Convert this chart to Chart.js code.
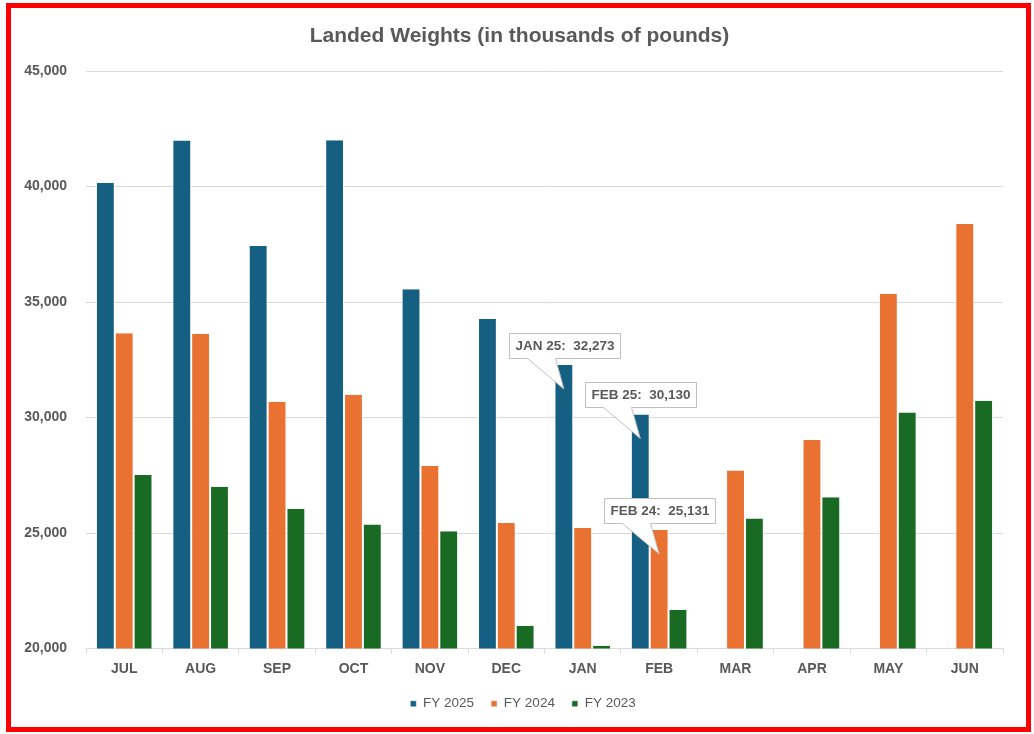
<!DOCTYPE html>
<html>
<head>
<meta charset="utf-8">
<title>Landed Weights</title>
<script src="https://cdn.jsdelivr.net/npm/chart.js@4.4.1/dist/chart.umd.min.js"></script>
<style>
  html, body { margin: 0; padding: 0; background: #ffffff; }
  #wrap { position: relative; width: 1034px; height: 734px; overflow: hidden; }
  #c { position: absolute; left: 0; top: 0; }
  #frame {
    position: absolute; left: 6px; top: 3px; width: 1025px; height: 729px;
    box-sizing: border-box; border: 5px solid #ff0000; pointer-events: none;
  }
</style>
</head>
<body>
<div id="wrap">
  <canvas id="c" width="1034" height="734"></canvas>
  <div id="frame"></div>
</div>
<script>
// Fiscal-year months, July through June
const months = ['JUL', 'AUG', 'SEP', 'OCT', 'NOV', 'DEC', 'JAN', 'FEB', 'MAR', 'APR', 'MAY', 'JUN'];

// Landed weights, thousands of pounds (FY 2025 only reported through February)
const fy2025 = [40150, 41990, 37420, 42000, 35550, 34260, 32273, 30130, null, null, null, null];
const fy2024 = [33650, 33630, 30680, 30990, 27900, 25435, 25220, 25131, 27710, 29030, 35350, 38380];
const fy2023 = [27510, 27000, 26045, 25365, 25075, 20990, 20120, 21680, 25630, 26550, 30220, 30730];

const seriesNames = ['FY 2025', 'FY 2024', 'FY 2023'];
const seriesColors = ['#156082', '#E97132', '#196B24'];

// Value axis range and step
const yMin = 20000;
const yMax = 45000;
const yStep = 5000;

// Highlighted bars: series index, month, callout tag
const callouts = [
  { series: 0, month: 'JAN', tag: 'JAN 25' },
  { series: 0, month: 'FEB', tag: 'FEB 25' },
  { series: 1, month: 'FEB', tag: 'FEB 24' }
];

const TEXT = '#595959';
const GRID = '#d9d9d9';
const FONT = '"Liberation Sans", Arial, sans-serif';

// Speech-bubble labels pointing into the highlighted bars
const calloutPlugin = {
  id: 'calloutBubbles',
  afterDatasetsDraw(chart) {
    const ctx = chart.ctx;
    ctx.save();
    ctx.font = 'bold 13.5px ' + FONT;
    callouts.forEach(c => {
      const idx = months.indexOf(c.month);
      const bar = chart.getDatasetMeta(c.series).data[idx];
      const value = chart.data.datasets[c.series].data[idx];
      const text = c.tag + ':  ' + value.toLocaleString('en-US');
      const tipX = bar.x;
      const tipY = bar.y + 24;
      const w = Math.round(ctx.measureText(text).width + 12);
      const h = 25;
      const left = Math.round(tipX - 55) + 0.5;
      const top = Math.round(tipY - 56) + 0.5;
      const right = left + w;
      const bottom = top + h;
      ctx.beginPath();
      ctx.moveTo(left, top);
      ctx.lineTo(right, top);
      ctx.lineTo(right, bottom);
      ctx.lineTo(left + 46, bottom);
      ctx.lineTo(tipX, tipY);
      ctx.lineTo(left + 18, bottom);
      ctx.lineTo(left, bottom);
      ctx.closePath();
      ctx.fillStyle = '#ffffff';
      ctx.fill();
      ctx.strokeStyle = '#bfbfbf';
      ctx.lineWidth = 1;
      ctx.stroke();
      ctx.fillStyle = TEXT;
      ctx.textAlign = 'left';
      ctx.textBaseline = 'middle';
      ctx.fillText(text, left + 6, top + h / 2 + 0.5);
    });
    ctx.restore();
  }
};

// Centre the title and legend over the frame rather than the full canvas width
const headerOffsetPlugin = {
  id: 'headerOffset',
  beforeDraw(chart) {
    if (chart.titleBlock) chart.titleBlock.left = 36;
    if (chart.legend) chart.legend.left = 43;
  }
};

const seriesData = [fy2025, fy2024, fy2023];

const datasets = seriesData.map((values, i) => ({
  label: seriesNames[i],
  data: values,
  backgroundColor: seriesColors[i],
  borderColor: '#ffffff',
  borderWidth: { top: 0, right: 1, bottom: 0, left: 1 },
  borderSkipped: false,
  barPercentage: 1.0,
  categoryPercentage: 0.74
}));

new Chart(document.getElementById('c'), {
  type: 'bar',
  data: { labels: months, datasets },
  options: {
    responsive: false,
    animation: false,
    devicePixelRatio: 1,
    layout: { padding: { top: 10, left: 22, right: 31, bottom: 13.5 } },
    plugins: {
      title: {
        display: true,
        text: 'Landed Weights (in thousands of pounds)',
        color: TEXT,
        font: { family: FONT, size: 21, weight: 'bold' },
        padding: { top: 13.4, bottom: 22.4 }
      },
      legend: {
        position: 'bottom',
        labels: {
          boxWidth: 6,
          boxHeight: 6,
          padding: 17,
          color: TEXT,
          font: { family: FONT, size: 13.5 }
        }
      },
      tooltip: { enabled: false }
    },
    scales: {
      x: {
        afterFit: scale => { scale.height = 31.5; },
        grid: {
          offset: true,
          drawOnChartArea: false,
          drawTicks: true,
          tickLength: 5,
          color: GRID
        },
        border: { display: true, color: GRID },
        ticks: {
          color: TEXT,
          padding: 7,
          font: { family: FONT, size: 14, weight: 'bold' }
        }
      },
      y: {
        min: yMin,
        max: yMax,
        afterFit: scale => { scale.width = 64; },
        grid: { color: GRID, drawTicks: false },
        border: { display: false },
        ticks: {
          stepSize: yStep,
          padding: 19,
          color: TEXT,
          font: { family: FONT, size: 14, weight: 'bold' },
          callback: v => v.toLocaleString('en-US')
        }
      }
    }
  },
  plugins: [calloutPlugin, headerOffsetPlugin]
});
</script>
</body>
</html>
